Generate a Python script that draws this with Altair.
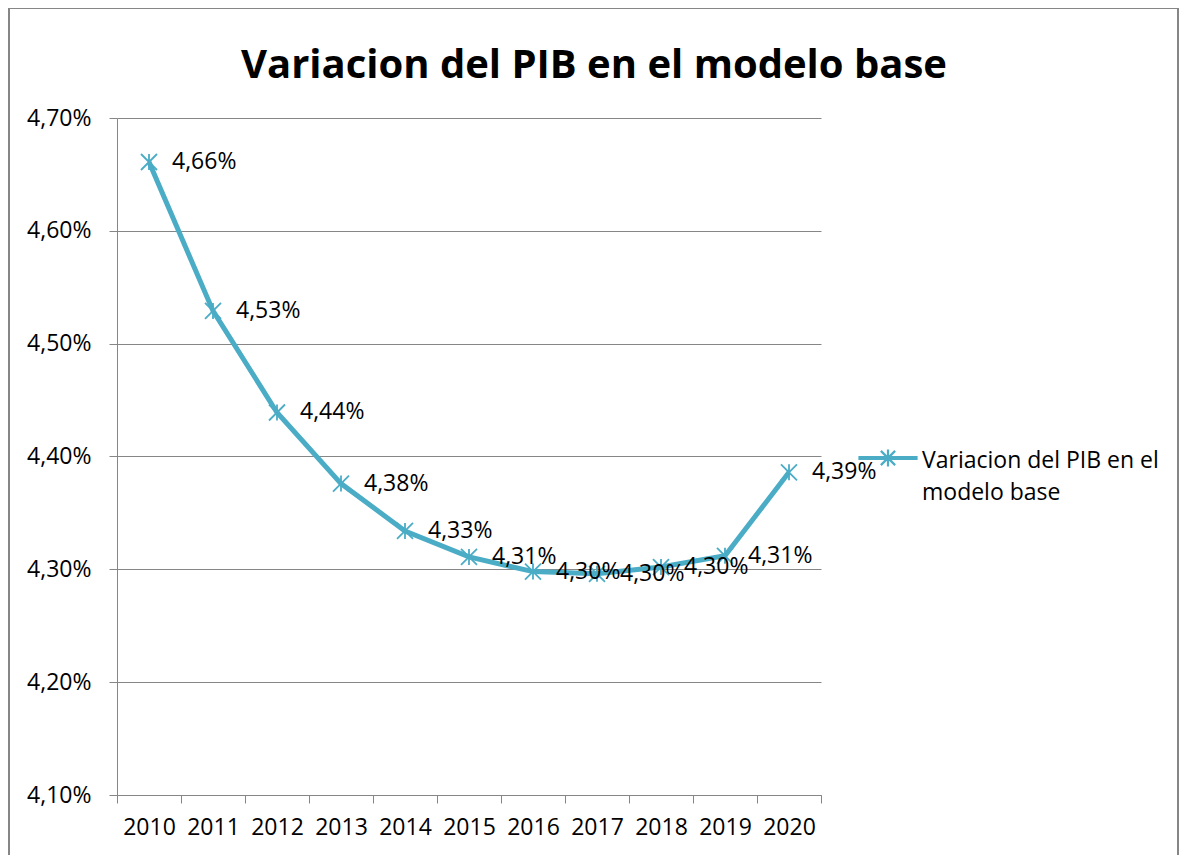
import altair as alt
import pandas as pd

years = ["2010", "2011", "2012", "2013", "2014", "2015", "2016", "2017", "2018", "2019", "2020"]
values = [4.661, 4.529, 4.439, 4.376, 4.334, 4.311, 4.298, 4.296, 4.302, 4.312, 4.386]
series_name = "Variacion del PIB en el modelo base"
y_ticks = [4.10, 4.20, 4.30, 4.40, 4.50, 4.60, 4.70]

df = pd.DataFrame({"year": years, "value": values, "serie": [series_name] * len(years)})
df["label"] = [f"{v:.2f}".replace(".", ",") + "%" for v in values]

COLOR = "#4BACC6"
GRAY = "#868686"
FONT = "Open Sans"
FS = 23

star = "M-1,-1L1,1M1,-1L-1,1M0,-1L0,1"
legend_sym = ("M-1,0.245L1,0.245L1,0.315L-1,0.315Z"
              "M-0.25,0.03L0.25,0.53M0.25,0.03L-0.25,0.53M0,-0.02L0,0.58")

x_enc = alt.X("year:O", scale=alt.Scale(type="band", paddingInner=0, paddingOuter=0),
              axis=alt.Axis(title=None, labelAngle=0, tickBand="extent", domainColor=GRAY,
                            tickColor=GRAY, tickSize=8, labelPadding=13, labelFont=FONT,
                            labelFontSize=FS, labelColor="black", grid=False))
y_enc = alt.Y("value:Q", scale=alt.Scale(domain=[4.10, 4.70], nice=False, zero=False),
              axis=alt.Axis(title=None, values=y_ticks, grid=True, gridColor=GRAY,
                            domainColor=GRAY, tickColor=GRAY, tickSize=8, labelPadding=18,
                            labelFont=FONT, labelFontSize=FS, labelColor="black",
                            labelExpr="replace(format(datum.value, '.2f'), '.', ',') + '%'"))

base = alt.Chart(df)

line = base.mark_line(strokeWidth=5, color=COLOR).encode(x=x_enc, y=y_enc)

points = base.mark_point(shape=star, size=256, filled=False, strokeWidth=1.8, opacity=1).encode(
    x=x_enc, y=y_enc,
    color=alt.Color("serie:N", scale=alt.Scale(range=[COLOR]),
                    legend=alt.Legend(title=None, orient="none", legendX=741, legendY=302,
                                      symbolType=legend_sym, symbolSize=3249,
                                      symbolStrokeWidth=2.2, symbolOpacity=1,
                                      labelFont=FONT, labelFontSize=FS, labelColor="black",
                                      labelOffset=4, labelLimit=400, labelBaseline="top",
                                      labelExpr="['Variacion del PIB en el', 'modelo base']",
                                      padding=0)))

labels = base.mark_text(align="left", baseline="middle", dx=23, font=FONT, fontSize=FS,
                        color="black").encode(x=x_enc, y=y_enc, text="label:N")

border = alt.Chart(pd.DataFrame({"a": [0]})).mark_rect(
    fill=None, stroke=GRAY, strokeWidth=2).encode(
    x=alt.value(-108), x2=alt.value(1061), y=alt.value(-110), y2=alt.value(760))

chart = alt.layer(border, line, points, labels).properties(
    width=704, height=677,
    title=alt.TitleParams(series_name, font=FONT, fontSize=40, fontWeight="bold",
                          color="black", anchor="middle", dx=125, baseline="alphabetic",
                          offset=-111),
    autosize=alt.AutoSizeParams(type="none"),
    padding={"left": 109, "top": 110, "right": 359, "bottom": 60},
).configure(style={"guide-label": {"lineHeight": 32}}).configure_view(stroke=None)

chart.save("out.html", embed_options={"renderer": "svg", "actions": False})
